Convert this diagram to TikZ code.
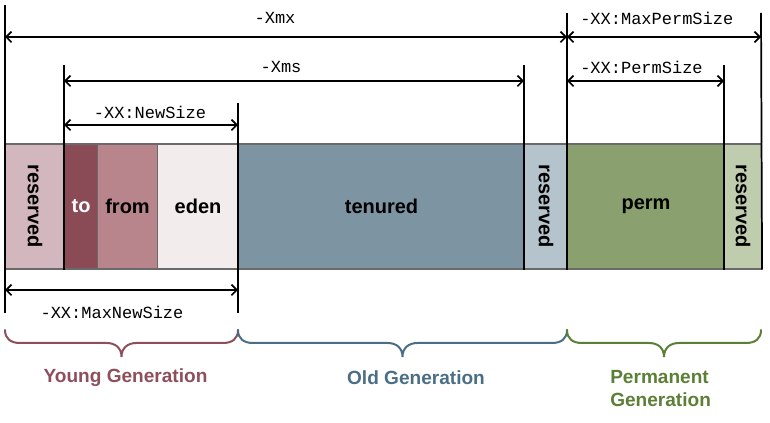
\documentclass[tikz,border=0pt]{standalone}
\usepackage{fontspec}
\setmainfont{Liberation Sans}
\newfontfamily\dimfont{Liberation Mono}
\usetikzlibrary{arrows.meta}
\definecolor{cresY}{HTML}{D2B8BE}
\definecolor{cto}{HTML}{8A4A56}
\definecolor{cfrom}{HTML}{B9858C}
\definecolor{ceden}{HTML}{F2ECEC}
\definecolor{cten}{HTML}{7D95A3}
\definecolor{cresO}{HTML}{B5C3CD}
\definecolor{cperm}{HTML}{8AA06E}
\definecolor{cresP}{HTML}{BFCCAE}
\definecolor{cyoung}{HTML}{8E4F5C}
\definecolor{cold}{HTML}{4A6E86}
\definecolor{cpg}{HTML}{5B7F36}
\definecolor{cborder}{HTML}{6A6A6A}
\begin{document}
\begin{tikzpicture}[x=0.75pt,y=0.75pt,
  seg/.style={draw=cborder, line width=0.8pt, minimum height=93.75pt, inner sep=0pt, anchor=west},
  segtext/.style={font=\fontsize{15}{18}\selectfont\bfseries, inner sep=0pt},
  vtext/.style={segtext, rotate=-90},
  ext/.style={line width=1.3pt, black},
  dimarrow/.style={line width=1.3pt, {Straight Barb[length=4pt,width=8pt]}-{Straight Barb[length=4pt,width=8pt]}},
  dimlabel/.style={font=\dimfont\fontsize{12.75}{14}\selectfont, inner sep=0pt},
  brace/.style={line width=1.5pt, line cap=round},
  gentext/.style={font=\fontsize{14.3}{17.25}\selectfont\bfseries, inner sep=0pt, align=left}
]
\useasboundingbox (0,0) rectangle (770,423);
% bar segments
\node[seg, fill=cresY, minimum width=44.25pt] (resY) at (5,216.5) {};
\node[seg, fill=cto, minimum width=24.75pt] (to) at (64,216.5) {};
\node[seg, fill=cfrom, minimum width=45pt] (from) at (97,216.5) {};
\node[seg, fill=ceden, minimum width=60.75pt] (eden) at (157,216.5) {};
\node[seg, fill=cten, minimum width=214.5pt] (ten) at (238,216.5) {};
\node[seg, fill=cresO, minimum width=32.25pt] (resO) at (524,216.5) {};
\node[seg, fill=cperm, minimum width=117.75pt] (perm) at (567,216.5) {};
\node[seg, fill=cresP, minimum width=27.75pt] (resP) at (724,216.5) {};
% segment texts
\node[vtext] (tresY) at (resY.center) {reserved};
\node[segtext, text=white] (tto) at (to.center) {to};
\node[segtext] (tfrom) at (from.center) {from};
\node[segtext] (teden) at (eden.center) {eden};
\node[segtext] (tten) at (ten.center) {tenured};
\node[vtext] (tresO) at (resO.center) {reserved};
\node[segtext] (tperm) at (perm.center) {perm};
\node[vtext] (tresP) at (resP.center) {reserved};
% extension line end points
\coordinate (e1t) at (5,418);   \coordinate (e1b) at (5,110);
\coordinate (e2t) at (64,358);
\coordinate (e3t) at (238,320); \coordinate (e3b) at (238,110);
\coordinate (e4t) at (524,358);
\coordinate (e5t) at (567,410);
\coordinate (e6t) at (724,358);
\coordinate (e7t) at (761,410);
\draw[ext] (e1t) -- (e1b);
\draw[ext] (e2t) -- (to.south west);
\draw[ext] (e3t) -- (e3b);
\draw[ext] (e4t) -- (resO.south west);
\draw[ext] (e5t) -- (perm.south west);
\draw[ext] (e6t) -- (resP.south west);
\draw[ext] (e7t) -- (resP.south east);
% dimension arrows
\coordinate (xmxL) at (5,386);   \coordinate (xmxR) at (567,386);
\coordinate (mpL) at (567,386);  \coordinate (mpR) at (761,386);
\coordinate (xmsL) at (64,342);  \coordinate (xmsR) at (524,342);
\coordinate (psL) at (567,342);  \coordinate (psR) at (724,342);
\coordinate (nsL) at (64,298);   \coordinate (nsR) at (238,298);
\coordinate (mnsL) at (5,133);   \coordinate (mnsR) at (238,133);
\draw[dimarrow] (xmxL) -- (xmxR);
\draw[dimarrow] (mpL) -- (mpR);
\draw[dimarrow] (xmsL) -- (xmsR);
\draw[dimarrow] (psL) -- (psR);
\draw[dimarrow] (nsL) -- (nsR);
\draw[dimarrow] (mnsL) -- (mnsR);
\node[dimlabel] (lxmx) at (275,405) {-Xmx};
\node[dimlabel, anchor=west] (lmp) at (580,405) {-XX:MaxPermSize};
\node[dimlabel] (lxms) at (281,356) {-Xms};
\node[dimlabel, anchor=west] (lps) at (580,356) {-XX:PermSize};
\node[dimlabel] (lns) at (150,311) {-XX:NewSize};
\node[dimlabel] (lmns) at (112,111) {-XX:MaxNewSize};
% braces
\draw[brace, cyoung] (5,93) .. controls (5,84) and (11,80) .. (20,80) -- (106.5,80)
  .. controls (115.5,80) and (121.5,75) .. (121.5,66)
  .. controls (121.5,75) and (127.5,80) .. (136.5,80) -- (223,80)
  .. controls (232,80) and (238,84) .. (238,93);
\draw[brace, cold] (238,93) .. controls (238,84) and (244,80) .. (253,80) -- (387.5,80)
  .. controls (396.5,80) and (402.5,75) .. (402.5,66)
  .. controls (402.5,75) and (408.5,80) .. (417.5,80) -- (552,80)
  .. controls (561,80) and (567,84) .. (567,93);
\draw[brace, cpg] (567,93) .. controls (567,84) and (573,80) .. (582,80) -- (649,80)
  .. controls (658,80) and (664,75) .. (664,66)
  .. controls (664,75) and (670,80) .. (679,80) -- (746,80)
  .. controls (755,80) and (761,84) .. (761,93);
% generation labels
\node[gentext, text=cyoung] (gy) at (125.5,45) {Young Generation};
\node[gentext, text=cold] (go) at (416,45) {Old Generation};
\node[gentext, text=cpg, anchor=north west] (gp) at (610,53) {Permanent\\Generation};
\end{tikzpicture}
\end{document}
